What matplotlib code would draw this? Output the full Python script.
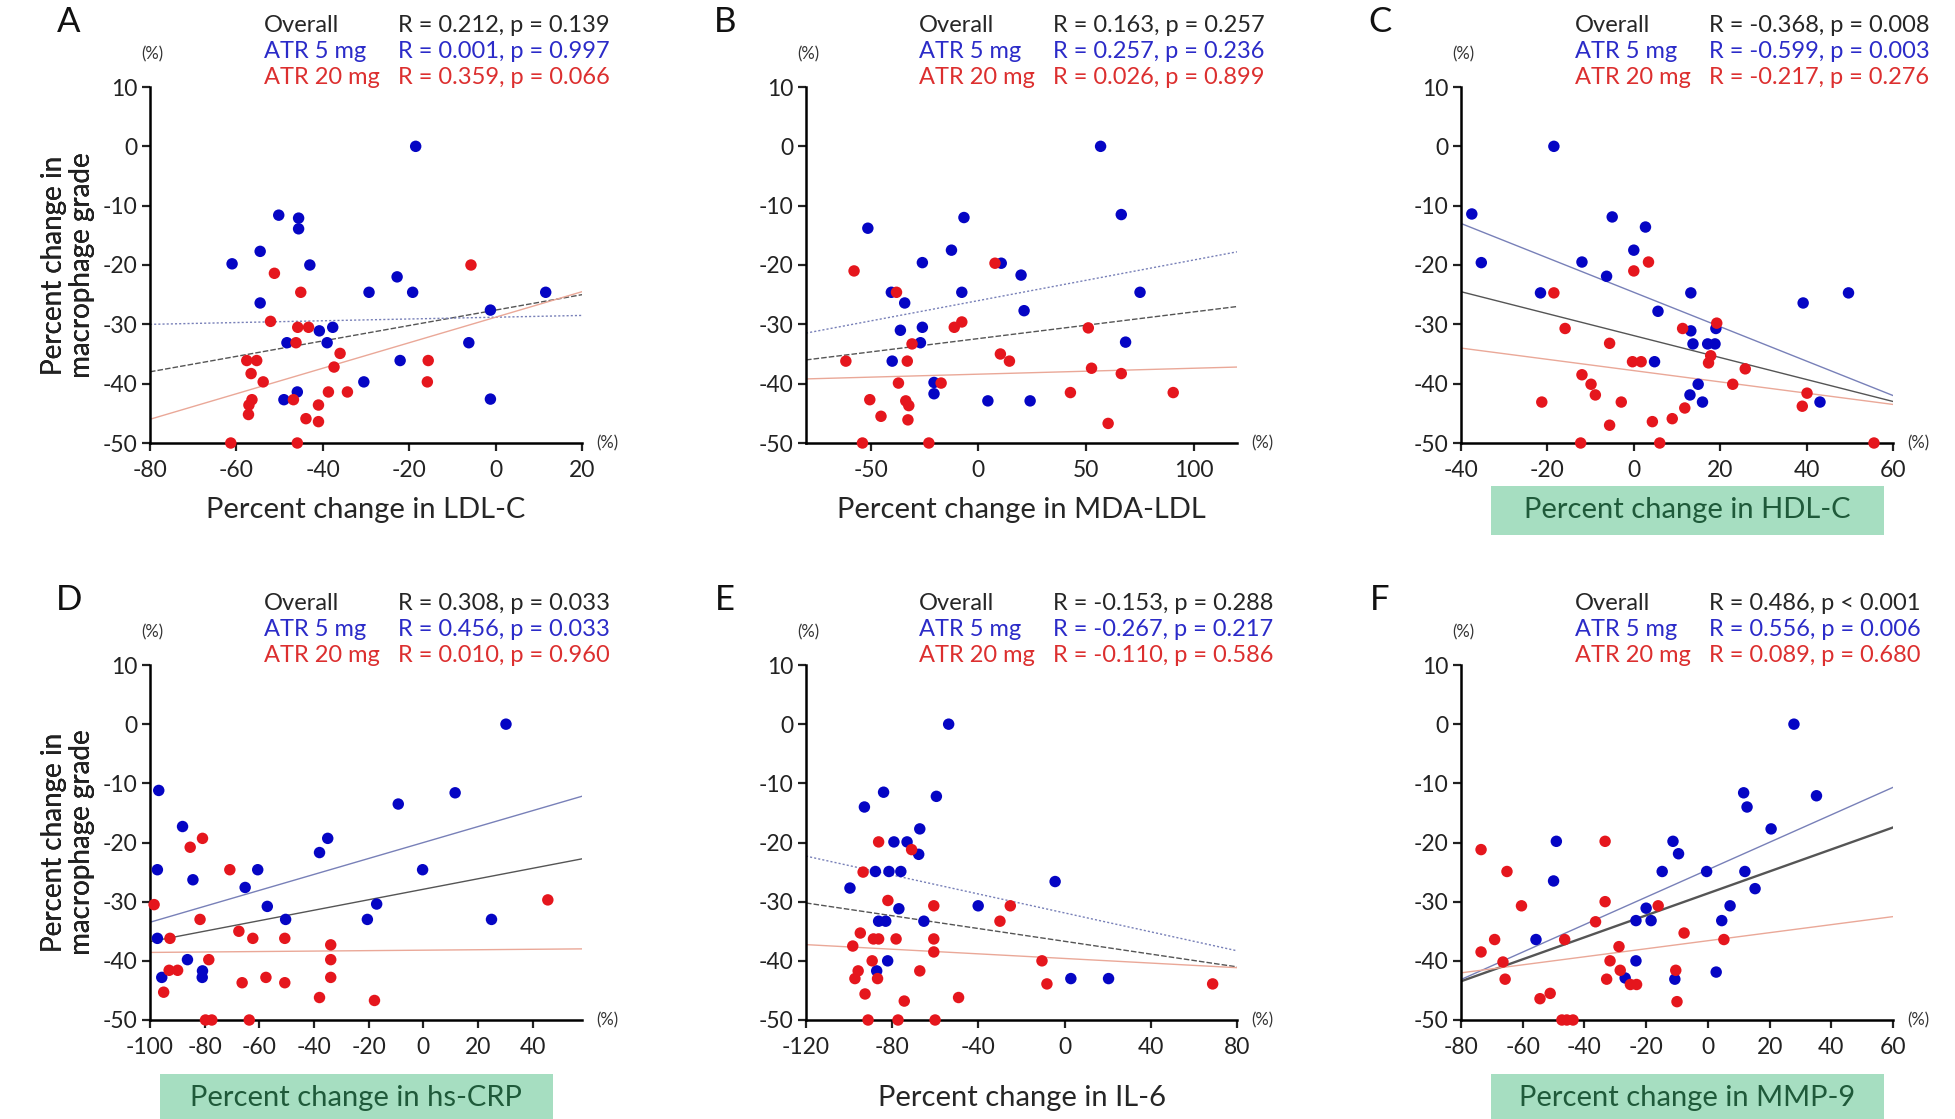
import numpy as np
import matplotlib
matplotlib.use('Agg')
import matplotlib.pyplot as plt
from matplotlib.patches import Rectangle

plt.rcParams['font.family'] = ['Lato', 'DejaVu Sans']
plt.rcParams['axes.unicode_minus'] = False

# --- percent change in each marker (x) vs percent change in macrophage grade (y) ---
# A: LDL-C
ldl_x_5 = [-18.5, -50.2, -45.6, -45.6, -61.0, -54.5, -43.0, -54.5, -22.8, -29.3, -19.2, 11.6,
           -1.2, -40.8, -37.7, -48.3, -39.0, -6.2, -22.1, -30.5, -49.0, -45.9, -1.2]
ldl_y_5 = [0.0, -11.6, -12.1, -13.9, -19.8, -17.7, -20.0, -26.4, -22.0, -24.6, -24.6, -24.6,
           -27.6, -31.1, -30.5, -33.1, -33.1, -33.1, -36.1, -39.7, -42.7, -41.4, -42.6]
ldl_x_20 = [-5.7, -51.2, -45.1, -52.1, -45.8, -43.3, -46.2, -36.0, -37.4, -57.6, -55.3, -56.6, -53.8,
            -15.6, -15.8, -38.7, -34.3, -56.4, -57.1, -57.2, -46.8, -41.0, -43.9, -41.0, -61.3, -45.9]
ldl_y_20 = [-20.0, -21.4, -24.6, -29.5, -30.5, -30.5, -33.1, -34.9, -37.2, -36.1, -36.1, -38.3, -39.7,
            -36.1, -39.7, -41.4, -41.4, -42.7, -43.6, -45.2, -42.7, -43.6, -45.9, -46.4, -50.0, -50.0]

# B: MDA-LDL
mda_x_5 = [56.7, -51.3, -6.7, -12.5, -26.0, 10.6, 66.3, 19.8, -40.4, -7.7, 75.0, -34.2, 21.2,
           -36.2, -26.0, -26.9, 68.3, -40.0, -20.6, -20.6, 4.4, 24.0]
mda_y_5 = [0.0, -13.8, -12.0, -17.5, -19.6, -19.7, -11.5, -21.7, -24.6, -24.6, -24.6, -26.4, -27.7,
           -31.0, -30.5, -33.1, -33.0, -36.2, -39.8, -41.7, -42.9, -42.9]
mda_x_20 = [-57.7, -38.0, 7.7, -11.2, -7.7, -30.8, 51.0, 10.2, 14.4, -61.5, -33.0, 52.5, 66.3,
            -37.1, -17.3, 42.7, 90.4, -50.4, -33.7, -32.3, -45.2, -32.7, 60.2, -53.8, -23.0]
mda_y_20 = [-21.0, -24.6, -19.7, -30.5, -29.6, -33.3, -30.6, -35.0, -36.2, -36.2, -36.2, -37.4, -38.3,
            -39.9, -39.9, -41.5, -41.5, -42.7, -42.9, -43.7, -45.5, -46.1, -46.7, -50.0, -50.0]

# C: HDL-C
hdl_x_5 = [-18.5, -37.5, -5.0, 2.7, 0.0, -35.3, -12.0, -6.3, -21.6, 13.2, 39.2, 49.7, 5.6,
           13.2, 19.0, 13.7, 17.1, 18.8, 4.8, 14.9, 13.0, 15.9, 43.1]
hdl_y_5 = [0.0, -11.4, -11.9, -13.6, -17.5, -19.6, -19.5, -21.9, -24.7, -24.7, -26.4, -24.7, -27.8,
           -31.1, -30.7, -33.3, -33.3, -33.3, -36.3, -40.1, -41.9, -43.1, -43.1]
hdl_x_20 = [0.0, 3.4, -18.5, -15.9, 11.3, 19.2, -5.6, 17.8, -0.3, 1.7, 17.3, 25.8, -12.0, -9.9,
            22.9, -8.9, 40.1, -21.3, -2.9, 39.0, 11.8, 8.9, 4.3, -5.6, -12.3, 6.0, 55.6]
hdl_y_20 = [-21.0, -19.5, -24.7, -30.7, -30.7, -29.8, -33.2, -35.3, -36.3, -36.3, -36.5, -37.5, -38.5,
            -40.1, -40.1, -41.9, -41.6, -43.1, -43.1, -43.8, -44.1, -45.9, -46.4, -47.0, -50.0, -50.0, -50.0]

# D: hs-CRP
crp_x_5 = [30.2, -96.8, 11.6, -9.2, -88.1, -35.0, -38.0, -97.3, -60.6, -0.3, -84.3, -65.2, -57.1,
           -17.1, -50.4, -20.5, 24.9, -97.3, -86.3, -80.8, -80.9, -95.7]
crp_y_5 = [0.0, -11.2, -11.6, -13.5, -17.3, -19.3, -21.7, -24.6, -24.6, -24.6, -26.3, -27.6, -30.8,
           -30.4, -33.0, -33.0, -33.0, -36.2, -39.8, -41.7, -42.8, -42.8]
crp_x_20 = [-98.5, -80.8, -85.3, -70.8, -81.7, -67.5, -92.7, -62.4, -50.7, -33.9, -78.5, -33.9, -93.0,
            -89.9, -57.6, -33.9, -66.3, -50.7, -95.0, -38.0, -17.9, 45.5, -79.7, -77.4, -63.7]
crp_y_20 = [-30.5, -19.3, -20.8, -24.6, -33.0, -35.0, -36.2, -36.2, -36.2, -37.3, -39.8, -39.8, -41.6,
            -41.6, -42.8, -42.8, -43.7, -43.7, -45.3, -46.2, -46.7, -29.7, -50.0, -50.0, -50.0]

# E: IL-6
il6_x_5 = [-53.8, -84.0, -92.9, -59.5, -67.2, -79.2, -73.1, -67.7, -87.8, -81.5, -76.0, -99.6,
           -4.4, -76.9, -40.1, -86.3, -83.0, -65.3, -82.1, -87.2, 2.9, 20.4]
il6_y_5 = [0.0, -11.5, -14.0, -12.2, -17.7, -19.9, -19.9, -22.0, -24.9, -24.9, -24.9, -27.7,
           -26.6, -31.2, -30.7, -33.3, -33.3, -33.3, -40.0, -41.7, -43.0, -43.0]
il6_x_20 = [-86.3, -71.0, -93.5, -82.0, -60.7, -25.2, -30.0, -94.8, -88.7, -86.3, -78.2, -60.7, -98.3,
            -60.7, -89.3, -10.5, -67.2, -95.8, -97.3, -86.8, -8.2, 68.7, -92.6, -49.2, -74.4,
            -91.2, -77.3, -60.1]
il6_y_20 = [-19.9, -21.2, -25.0, -29.8, -30.7, -30.7, -33.3, -35.3, -36.3, -36.3, -36.3, -36.3, -37.5,
            -38.5, -40.0, -40.0, -41.7, -41.7, -43.0, -43.0, -43.9, -43.9, -45.6, -46.2, -46.8,
            -50.0, -50.0, -50.0]

# F: MMP-9
mmp_x_5 = [27.9, 11.6, 12.7, 35.2, 20.5, -49.1, -11.3, -9.5, -14.8, -0.4, 12.0, -50.0, 15.3,
           -20.0, 7.2, -23.3, -18.4, 4.5, -55.7, -23.3, 2.7, -26.8, -10.7]
mmp_y_5 = [0.0, -11.6, -14.0, -12.1, -17.7, -19.8, -19.8, -21.9, -24.9, -24.9, -24.9, -26.5, -27.8,
           -31.1, -30.7, -33.2, -33.2, -33.2, -36.4, -40.0, -41.9, -42.9, -43.1]
mmp_x_20 = [-73.5, -33.3, -65.1, -60.4, -33.3, -16.1, -36.4, -69.1, -46.4, -7.7, 5.2, -28.8, -73.5,
            -66.4, -31.7, -28.4, -10.4, -65.7, -32.8, -25.1, -23.1, -51.1, -54.4, -10.0,
            -47.3, -45.7, -43.7]
mmp_y_20 = [-21.2, -19.8, -24.9, -30.7, -30.0, -30.7, -33.4, -36.4, -36.4, -35.3, -36.4, -37.6, -38.5,
            -40.2, -40.0, -41.6, -41.6, -43.1, -43.1, -44.0, -44.0, -45.5, -46.4, -46.9,
            -50.0, -50.0, -50.0]

# regression lines (slope, intercept): overall, ATR 5 mg, ATR 20 mg
fit_ldl = [(0.130, -27.6), (0.015, -28.8), (0.215, -28.8)]
fit_mda = [(0.045, -32.4), (0.0685, -26.0), (0.010, -38.4)]
fit_hdl = [(-0.185, -31.9), (-0.290, -24.6), (-0.095, -37.8)]
fit_crp = [(0.0886, -27.9), (0.1348, -20.0), (0.0038, -38.2)]
fit_il6 = [(-0.054, -36.7), (-0.080, -31.9), (-0.0195, -39.6)]
fit_mmp = [(0.1857, -28.6), (0.232, -24.6), (0.0679, -36.6)]

# correlation results
stats_ldl = ['R = 0.212, p = 0.139', 'R = 0.001, p = 0.997', 'R = 0.359, p = 0.066']
stats_mda = ['R = 0.163, p = 0.257', 'R = 0.257, p = 0.236', 'R = 0.026, p = 0.899']
stats_hdl = ['R = -0.368, p = 0.008', 'R = -0.599, p = 0.003', 'R = -0.217, p = 0.276']
stats_crp = ['R = 0.308, p = 0.033', 'R = 0.456, p = 0.033', 'R = 0.010, p = 0.960']
stats_il6 = ['R = -0.153, p = 0.288', 'R = -0.267, p = 0.217', 'R = -0.110, p = 0.586']
stats_mmp = ['R = 0.486, p < 0.001', 'R = 0.556, p = 0.006', 'R = 0.089, p = 0.680']

group_names = ['Overall', 'ATR 5 mg', 'ATR 20 mg']
yticks = [10, 0, -10, -20, -30, -40, -50]

panels = [
    dict(letter='A', name='LDL-C', x5=ldl_x_5, y5=ldl_y_5, x20=ldl_x_20, y20=ldl_y_20,
         fit=fit_ldl, stats=stats_ldl, xlim=(-80, 20), xticks=[-80, -60, -40, -20, 0, 20],
         solid=False, green=False),
    dict(letter='B', name='MDA-LDL', x5=mda_x_5, y5=mda_y_5, x20=mda_x_20, y20=mda_y_20,
         fit=fit_mda, stats=stats_mda, xlim=(-80, 120), xticks=[-50, 0, 50, 100],
         solid=False, green=False),
    dict(letter='C', name='HDL-C', x5=hdl_x_5, y5=hdl_y_5, x20=hdl_x_20, y20=hdl_y_20,
         fit=fit_hdl, stats=stats_hdl, xlim=(-40, 60), xticks=[-40, -20, 0, 20, 40, 60],
         solid=True, green=True),
    dict(letter='D', name='hs-CRP', x5=crp_x_5, y5=crp_y_5, x20=crp_x_20, y20=crp_y_20,
         fit=fit_crp, stats=stats_crp, xlim=(-100, 58), xticks=[-100, -80, -60, -40, -20, 0, 20, 40],
         solid=True, green=True),
    dict(letter='E', name='IL-6', x5=il6_x_5, y5=il6_y_5, x20=il6_x_20, y20=il6_y_20,
         fit=fit_il6, stats=stats_il6, xlim=(-120, 80), xticks=[-120, -80, -40, 0, 40, 80],
         solid=False, green=False),
    dict(letter='F', name='MMP-9', x5=mmp_x_5, y5=mmp_y_5, x20=mmp_x_20, y20=mmp_y_20,
         fit=fit_mmp, stats=stats_mmp, xlim=(-80, 60), xticks=[-80, -60, -40, -20, 0, 20, 40, 60],
         solid=True, green=True),
]

W, H = 1955, 1119
fig = plt.figure(figsize=(W / 100, H / 100), dpi=100)

# axes boxes in pixels: left, right, top (y=10), bottom (y=-50)
cols = [(150, 582), (806, 1237), (1461, 1893)]
rows = [(87, 443), (665, 1020)]

dot_blue = '#0505c4'
dot_red = '#e5161d'
text_cols = ['#262626', '#2b2bc8', '#dc2f2f']
line_cols = ['#555555', '#7880b8', '#eaa898']

for i, p in enumerate(panels):
    (l, r), (t, b) = cols[i % 3], rows[i // 3]
    ax = fig.add_axes([l / W, 1 - b / H, (r - l) / W, (b - t) / H])
    ax.set_xlim(*p['xlim'])
    ax.set_ylim(-50, 10)
    ax.set_xticks(p['xticks'])
    ax.set_yticks(yticks)
    for s in ['top', 'right']:
        ax.spines[s].set_visible(False)
    for s in ['left', 'bottom']:
        ax.spines[s].set_linewidth(1.8)
    ax.tick_params(width=1.6, length=6, labelsize=16.5, colors='#222222', pad=3)
    ax.tick_params(axis='x', pad=6)

    # fitted lines across the x range
    xs = np.array(p['xlim'], dtype=float)
    for (slope, icpt), lc, k in zip(p['fit'], line_cols, range(3)):
        if p['solid']:
            ls = '-'
            lw = 1.7 if (k == 0 and p['letter'] == 'F') else 1.0
        else:
            ls = [(0, (4, 1.5)), (0, (1.5, 1.5)), '-'][k]
            lw = 1.0
        ax.plot(xs, slope * xs + icpt, color=lc, lw=lw, ls=ls, zorder=2)

    ax.scatter(p['x5'], p['y5'], s=68, color=dot_blue, edgecolors='none', zorder=3, clip_on=False)
    ax.scatter(p['x20'], p['y20'], s=68, color=dot_red, edgecolors='none', zorder=3, clip_on=False)

    ax.set_ylabel('Percent change in\nmacrophage grade', fontsize=20, color='#222222',
                  va='center', linespacing=1.12)
    ax.yaxis.set_label_coords(-(l - 68) / (r - l), 0.5)

    # panel letter and unit marks
    fig.text((l - 81) / W, 1 - (t - 65) / H, p['letter'], fontsize=25, ha='center', va='center',
             color='#111111')
    fig.text((l + 2) / W, 1 - (t - 33) / H, '(%)', fontsize=12, ha='center', va='center',
             color='#333333')
    fig.text((r + 25) / W, 1 - b / H, '(%)', fontsize=12, ha='center', va='center', color='#333333')

    # correlation header
    for k in range(3):
        yy = 1 - (t - 61 + 26 * k) / H
        fig.text((r - 318) / W, yy, group_names[k], fontsize=17, color=text_cols[k],
                 ha='left', va='center')
        fig.text((r - 184) / W, yy, p['stats'][k], fontsize=17, color=text_cols[k],
                 ha='left', va='center')

    # x label, highlighted ones sit on a green band
    label = 'Percent change in ' + p['name']
    ly = b + (67 if i < 3 else 78)
    if p['green']:
        bx0 = l + (30 if i % 3 else 10)
        fig.patches.append(Rectangle((bx0 / W, 1 - (ly + 25) / H), 393 / W, 49 / H,
                                     transform=fig.transFigure, facecolor='#a6dec1',
                                     edgecolor='none', zorder=0))
        fig.text((bx0 + 196) / W, 1 - ly / H, label, fontsize=21, color='#1f5a3a',
                 ha='center', va='center')
    else:
        fig.text((l + r) / 2 / W, 1 - ly / H, label, fontsize=21, color='#262626',
                 ha='center', va='center')

fig.savefig('out.png', dpi=100, facecolor='white')
